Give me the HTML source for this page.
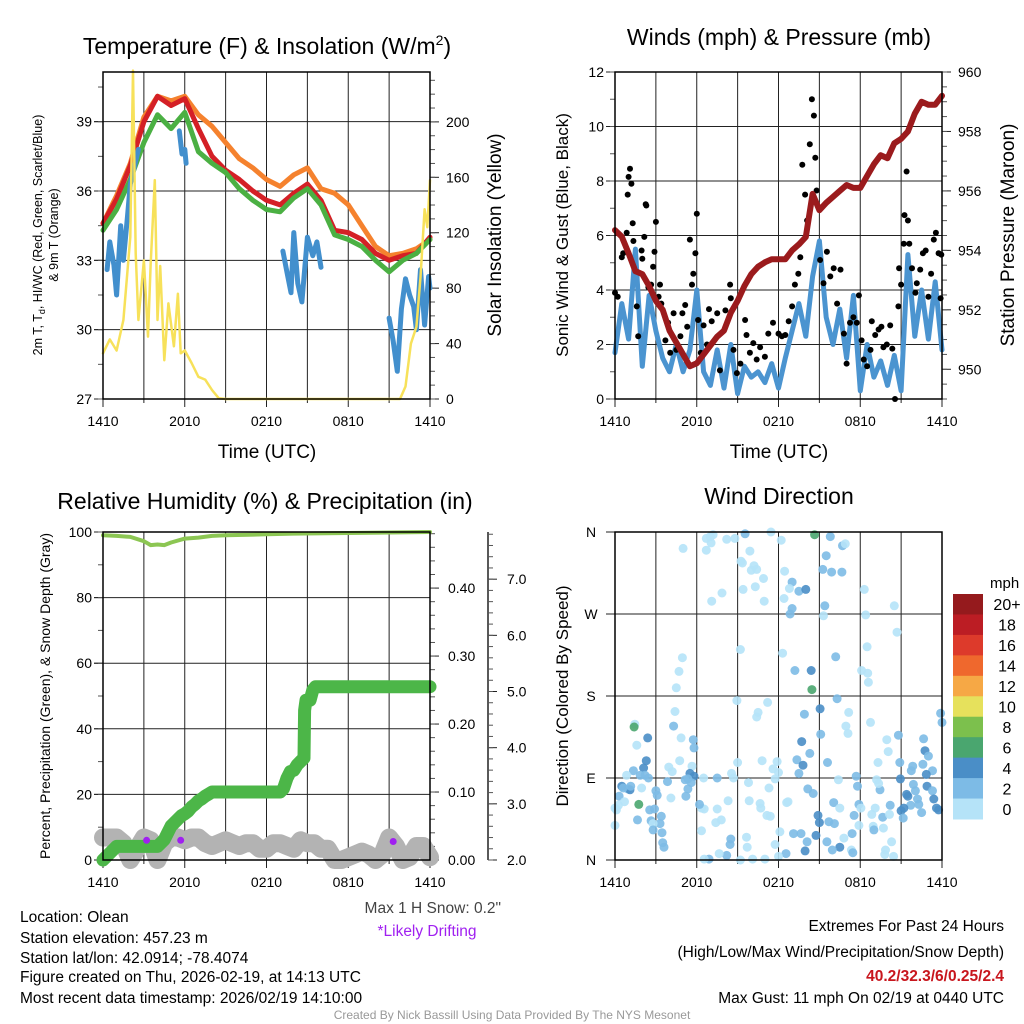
<!DOCTYPE html>
<html><head><meta charset="utf-8">
<style>
html,body{margin:0;padding:0;background:#fff;}
svg{display:block;font-family:"Liberation Sans",sans-serif;}
.ft{font-family:"Liberation Sans",sans-serif;font-size:15.5px;}
</style></head>
<body>
<svg id="chart" width="1024" height="1024" viewBox="0 0 1024 1024" xmlns="http://www.w3.org/2000/svg">
<rect x="0" y="0" width="1024" height="1024" fill="#fff"/>
<text x="267" y="54" font-size="23" text-anchor="middle">Temperature (F) &amp; Insolation (W/m<tspan dy="-9" font-size="14">2</tspan><tspan dy="9">)</tspan></text>
<text x="779" y="45" font-size="23" text-anchor="middle">Winds (mph) &amp; Pressure (mb)</text>
<text x="265" y="509" font-size="23" text-anchor="middle">Relative Humidity (%) &amp; Precipitation (in)</text>
<text x="779" y="504" font-size="23" text-anchor="middle">Wind Direction</text>
<text transform="translate(42,235) rotate(-90)" font-size="12.5" text-anchor="middle">2m T, T<tspan dy="3" font-size="9">d</tspan><tspan dy="-3">, HI/WC (Red, Green, Scarlet/Blue)</tspan></text>
<text transform="translate(58,235) rotate(-90)" font-size="12.5" text-anchor="middle">&amp; 9m T (Orange)</text>
<text transform="translate(501,235) rotate(-90)" font-size="19" text-anchor="middle">Solar Insolation (Yellow)</text>
<text transform="translate(568,235) rotate(-90)" font-size="17" text-anchor="middle">Sonic Wind &amp; Gust (Blue, Black)</text>
<text transform="translate(1014,235) rotate(-90)" font-size="19" text-anchor="middle">Station Pressure (Maroon)</text>
<text transform="translate(50,696) rotate(-90)" font-size="14" text-anchor="middle">Percent, Precipitation (Green), &amp; Snow Depth (Gray)</text>
<text transform="translate(568,696) rotate(-90)" font-size="17" text-anchor="middle">Direction (Colored By Speed)</text>
<text x="267" y="458" font-size="19" text-anchor="middle">Time (UTC)</text>
<text x="779" y="458" font-size="19" text-anchor="middle">Time (UTC)</text>
<g class="ft" font-size="15.5">
<text x="20" y="922">Location: Olean</text>
<text x="20" y="943">Station elevation: 457.23 m</text>
<text x="20" y="963">Station lat/lon: 42.0914; -78.4074</text>
<text x="20" y="982">Figure created on Thu, 2026-02-19, at 14:13 UTC</text>
<text x="20" y="1003">Most recent data timestamp: 2026/02/19 14:10:00</text>
<text x="501" y="913" text-anchor="end" fill="#444">Max 1 H Snow: 0.2"</text>
<text x="427" y="936" text-anchor="middle" fill="#a020f0">*Likely Drifting</text>
<text x="1004" y="931" text-anchor="end">Extremes For Past 24 Hours</text>
<text x="1004" y="957" text-anchor="end">(High/Low/Max Wind/Precipitation/Snow Depth)</text>
<text x="1004" y="981" text-anchor="end" fill="#c8161d" font-weight="bold">40.2/32.3/6/0.25/2.4</text>
<text x="1004" y="1003" text-anchor="end">Max Gust: 11 mph On 02/19 at 0440 UTC</text>
<text x="512" y="1019" text-anchor="middle" font-size="12" fill="#999">Created By Nick Bassill Using Data Provided By The NYS Mesonet</text>
</g>
</svg>
<script>
const hourTicks = [0,6,12,18,24];
const hourTickLabels = ["1410","2010","0210","0810","1410"];
const hourly = [0,1,2,3,4,5,6,7,8,9,10,11,12,13,14,15,16,17,18,19,20,21,22,23,24];
const tempRed = [34.6,35.65,37.1,39.0,40.1,39.7,40.0,38.7,37.5,36.9,36.5,36.0,35.6,35.4,35.9,36.3,35.6,34.3,34.2,33.9,33.3,33.0,33.2,33.3,34.0];
const tempGreen = [34.3,35.2,36.5,38.1,39.3,38.7,39.4,37.7,37.2,36.8,36.1,35.6,35.2,35.1,35.7,36.1,35.4,34.1,33.9,33.6,33.0,32.5,33.0,33.3,33.9];
const tempOrange = [34.6,35.8,37.2,39.2,40.1,39.9,40.1,39.3,38.8,38.1,37.4,37.0,36.5,36.2,36.7,37.0,36.1,35.9,35.4,34.5,33.6,33.2,33.3,33.5,33.9];
const chillHours = [0.3,0.5,0.8,1.0,1.3,1.5,1.8,2.0,2.4,2.6,null,5.6,5.8,6.0,6.1,null,13.2,13.5,13.8,14.0,14.3,14.6,15.0,15.4,15.7,16.0,null,21.0,21.3,21.6,21.9,22.2,22.5,22.8,23.0,23.3,23.6,23.9,24.0];
const chillVals = [32.6,33.8,32.8,31.5,34.5,33.0,34.9,36.3,37.3,37.8,null,38.6,37.6,37.8,37.2,null,33.4,32.5,31.6,34.2,32.0,31.2,34.0,33.2,33.8,32.7,null,30.5,29.5,28.2,30.9,32.2,31.5,31.0,30.0,32.6,30.2,32.3,31.8];
const solarHours = [0,0.5,1,1.5,2,2.2,2.4,2.6,3,3.3,3.5,3.8,4.0,4.2,4.5,4.8,5.2,5.5,5.7,6,6.5,7,7.5,8,8.5,9,21.8,22.2,22.6,23,23.3,23.6,23.8,24];
const solarVals = [33,43,35,57,117,237,105,57,100,45,98,158,57,96,28,69,38,76,33,35,26,16,14,6.5,0.5,0,0,9,40,52,88,137,124,158];
const halfHours = [0,0.5,1,1.5,2,2.5,3,3.5,4,4.5,5,5.5,6,6.5,7,7.5,8,8.5,9,9.5,10,10.5,11,11.5,12,12.5,13,13.5,14,14.5,15,15.5,16,16.5,17,17.5,18,18.5,19,19.5,20,20.5,21,21.5,22,22.5,23,23.5,24];
const windSpeed = [1.7,3.5,2.2,5.5,1.2,3.8,2.5,1.5,1.0,2.0,1.0,1.8,4.0,1.0,0.5,1.8,0.4,2.0,0.2,1.2,0.8,1.0,0.6,1.3,0.4,1.5,2.5,3.5,2.3,4.5,5.8,3.0,2.0,3.3,1.5,3.8,0.3,2.0,0.8,1.4,0.5,1.6,0.3,5.3,2.3,4.0,2.2,4.3,1.8];
const pressure = [954.68,954.46,953.9,953.3,953.2,952.8,952.3,952.0,951.3,950.9,950.5,950.1,950.2,950.5,950.8,951.1,951.3,951.9,952.3,952.8,953.2,953.45,953.6,953.7,953.7,953.7,954.0,954.2,954.45,955.9,955.35,955.6,955.8,956.0,956.2,956.1,956.1,956.5,956.9,957.2,957.1,957.6,957.75,958.0,958.6,959.0,958.9,958.9,959.2];
const gustHours = [0,0.2,0.5,0.6,0.86,0.93,1.0,1.1,1.2,1.3,1.35,1.6,1.7,1.95,2.0,2.15,2.25,2.3,2.45,2.65,2.8,2.9,3.0,3.2,3.3,3.4,3.7,3.9,4.05,4.3,4.5,4.8,4.95,5.15,5.3,5.5,5.65,5.75,5.9,6.0,6.1,6.3,6.5,6.75,6.9,7.1,7.5,7.7,8.1,8.45,8.5,8.7,8.95,9.2,9.55,9.65,9.9,10.15,10.4,10.65,11.0,11.25,11.6,12.0,12.25,12.5,12.75,13.0,13.2,13.45,13.6,13.75,13.95,14.1,14.3,14.45,14.6,14.7,14.8,15.05,15.3,15.55,15.8,16.05,16.3,16.55,16.8,17.0,17.25,17.5,17.75,17.9,18.1,18.25,18.5,18.75,18.85,19.1,19.35,19.55,19.7,19.95,20.2,20.35,20.55,20.8,20.85,21.0,21.2,21.25,21.4,21.5,21.6,21.8,22.05,22.15,22.4,22.6,22.8,23.0,23.2,23.4,23.55,23.75,23.95,23.9];
const gustVals = [3.9,3.75,5.2,5.35,6.1,7.5,8.15,8.45,7.9,6.45,5.8,3.4,2.3,5.45,5.15,5.95,7.15,7.1,4.1,4.2,4.85,5.4,6.5,3.75,4.2,3.5,2.15,2.8,1.7,3.15,1.8,2.3,3.15,3.45,2.65,5.85,4.2,4.6,5.35,6.8,2.9,1.7,2.7,2.0,3.3,2.85,3.15,1.05,3.25,4.2,3.7,1.8,0.95,1.3,2.9,2.35,1.7,2.05,1.45,1.9,1.55,2.4,2.8,2.4,2.3,2.35,2.85,3.4,4.2,4.6,5.2,8.6,7.5,6.55,9.35,11.0,10.4,8.85,7.65,5.1,4.25,5.4,4.5,4.8,3.5,4.75,2.4,1.3,2.8,3.0,2.8,3.8,2.15,1.45,1.2,1.8,2.85,2.35,2.55,2.65,1.9,2.0,2.7,1.85,0,3.4,4.8,4.2,5.7,6.75,8.35,6.55,5.7,4.8,3.9,4.25,4.75,5.35,5.45,3.75,4.6,5.85,6.1,5.35,5.3,3.7];
const rhHours = [0,1,2,3,3.5,4,4.5,5,6,7,8,9,12,14,18,24];
const rhVals = [99,98.8,98.5,97.2,96,96.2,96,96.8,98,98.3,98.8,99,99.3,99.5,99.7,100];
const precipHours = [0,0.25,0.5,0.75,1,1.5,2,2.5,3,3.5,4,4.25,4.5,4.75,5,5.25,5.5,5.75,6,6.25,6.5,6.75,7,7.25,7.5,7.75,8,8.25,8.5,8.75,9,9.25,9.5,10,10.5,11,11.5,12,12.5,13,13.25,13.5,13.75,14,14.25,14.5,14.75,14.8,14.9,15,15.2,15.4,15.6,16,17,18,19,20,21,22,23,24];
const precipVals = [0,0.005,0.01,0.015,0.02,0.02,0.02,0.02,0.02,0.02,0.02,0.025,0.03,0.04,0.05,0.055,0.06,0.065,0.068,0.072,0.078,0.082,0.087,0.09,0.094,0.097,0.1,0.1,0.1,0.1,0.1,0.1,0.1,0.1,0.1,0.1,0.1,0.1,0.1,0.1,0.105,0.12,0.13,0.132,0.14,0.145,0.15,0.22,0.235,0.235,0.235,0.25,0.255,0.255,0.255,0.255,0.255,0.255,0.255,0.255,0.255,0.255];
const snowHours = [0,0.5,1,1.5,2,2.5,3,3.5,4,4.5,5,5.5,6,6.5,7,7.5,8,8.5,9,9.5,10,10.5,11,11.5,12,12.5,13,13.5,14,14.5,15,15.5,16,16.5,17,17.5,18,18.5,19,19.5,20,20.5,21,21.5,22,22.5,23,23.5,24];
const snowVals = [2.4,2.4,2.4,2.3,2.0,2.2,2.4,2.35,2.0,2.3,2.4,2.4,2.35,2.4,2.4,2.3,2.25,2.3,2.35,2.3,2.25,2.3,2.3,2.2,2.2,2.3,2.3,2.25,2.2,2.35,2.3,2.3,2.2,2.2,2.0,2.0,2.05,2.1,2.15,2.1,2.0,2.1,2.4,2.25,2.0,2.05,2.25,2.25,2.05];
const driftHours = [3.2,5.7,21.3];
const driftVals = [2.35,2.35,2.33];
const dirHours = [5.0,6.7,7.0,7.2,7.05,6.7,8.2,8.8,9.55,11.45,12.2,14.65,15.8,16.7,16.9,9.9,9.25,9.35,10.2,10.0,10.4,10.9,9.4,10.3,10.95,7.85,7.1,12.45,13.0,13.5,14.0,12.8,12.4,13.0,12.85,15.5,15.25,15.9,16.65,15.4,15.3,18.3,18.4,20.5,20.7,9.2,12.3,16.2,18.5,18.1,18.55,18.6,13.2,14.4,14.45,4.95,4.7,4.5,4.4,4.3,4.85,8.95,11.2,10.5,10.4,15.05,13.9,16.3,17.15,16.95,17.1,18.75,15.1,13.7,14.3,13.35,13.8,13.5,15.6,14.15,14.55,20.8,19.95,20.05,19.3,20.9,22.65,22.75,23.0,22.6,21.85,21.75,23.3,22.85,20.95,23.9,24.0,21.9,22.9,23.3,22.05,21.4,21.5,22.2,22.3,23.4,23.6,23.75,21.7,21.2,21.0,22.5,21.15,19.45,19.35,19.2,17.7,17.8,16.4,17.9,18.05,17.55,19.1,18.85,19.65,20.2,20.15,18.95,19.0,19.7,20.3,19.85,19.8,20.45,17.4,16.8,16.5,17.35,17.45,15.95,15.55,17.9,16.05,16.5,15.7,16.1,14.9,15.0,14.75,14.1,13.95,13.65,13.1,12.55,12.1,11.75,12.0,11.0,10.1,9.2,8.2,7.65,6.9,6.55,7.4,7.8,8.45,8.5,9.65,9.7,10.65,10.7,11.15,11.4,9.85,8.3,12.6,12.7,11.3,6.35,6.35,6.55,7.5,6.2,10.8,11.9,11.6,12.0,11.75,9.0,8.55,8.7,9.8,7.5,6.5,5.75,5.8,5.65,5.5,5.8,5.35,5.15,5.6,5.35,5.2,4.1,3.95,4.2,4.75,3.85,3.4,3.3,3.45,3.5,3.6,3.0,3.1,2.55,2.9,2.65,2.8,2.8,2.4,2.3,2.1,2.2,2.45,1.85,1.35,0.85,1.95,1.6,1.45,1.4,1.75,1.65,0.95,1.1,0.5,0.6,1.15,0.3,0.7,0.25,0,0.1,0];
const dirDeg = [342,353,355,357,348,340,352,353,358,360,351,357,355,345,347,339,328,326,323,318,319,309,297,300,284,293,284,317,305,295,297,298,287,276,270,334,319,316,316,279,268,297,269,279,250,231,227,223,234,208,205,195,208,208,187,222,207,189,163,147,134,175,173,162,157,166,160,177,162,147,139,151,138,130,117,110,104,95,107,78,73,137,132,119,107,107,133,120,114,105,103,98,98,94,89,161,151,83,81,76,76,72,70,67,61,67,57,55,60,57,54,52,46,77,84,88,92,81,88,61,57,49,57,50,47,60,50,37,33,35,20,11,6,4,29,24,14,11,8,11,20,38,63,57,42,40,49,41,27,20,10,29,29,7,31,17,4,1,1,0,5,7,1,1,41,44,17,23,25,14,62,57,49,48,65,65,63,64,79,32,57,56,56,61,109,108,100,96,89,107,95,90,85,90,90,132,123,103,95,92,89,88,85,78,70,68,102,97,109,86,48,40,30,19,14,76,71,55,56,43,40,33,134,109,101,93,90,93,98,93,79,126,149,146,61,44,78,77,81,79,81,70,64,60,57,55,38];
const dirSpeed = [1,1,1,1,1,1,1,1,3,1,1,7,3,3,1,1,1,1,1,1,1,1,1,1,1,1,1,1,3,3,5,1,1,3,3,3,3,3,3,3,1,1,1,1,1,1,1,3,1,1,1,1,3,5,7,1,1,1,1,3,1,1,1,1,1,5,3,3,1,1,1,1,3,5,3,3,5,3,3,3,3,3,1,1,1,3,3,5,3,3,3,3,3,5,5,3,3,3,5,3,3,5,5,3,3,5,5,5,3,5,5,3,3,3,1,1,3,3,1,3,1,3,1,1,3,3,1,1,3,1,1,1,1,1,3,1,5,1,3,3,3,1,3,1,3,3,5,5,5,3,5,3,3,3,1,1,1,1,1,1,3,1,3,1,1,1,3,3,1,1,1,1,1,1,1,1,1,1,1,1,1,1,1,3,1,1,1,1,1,1,1,1,1,3,1,3,3,1,5,5,3,3,3,3,3,1,1,1,1,3,3,3,3,3,3,3,3,3,3,3,1,3,5,5,5,3,3,3,3,1,1,1,1,7,7,3,3,5,5,3,3,3,1];
const speedBinLabels = ["20+","18","16","14","12","10","8","6","4","2","0"];
const speedBinColors = ["#951a1d","#bc1d24","#dd3a2b","#ef682d","#f6a845","#e6e15c","#7cc04d","#4aa66f","#4a8ec7","#7dbbe6","#b5e3f8"];

const NS='http://www.w3.org/2000/svg';
const svg=document.getElementById('chart');
function mk(tag,attrs,parent){const e=document.createElementNS(NS,tag);for(const k in attrs)e.setAttribute(k,attrs[k]);(parent||svg).appendChild(e);return e;}
function lin(d0,d1,r0,r1){return v=>r0+(v-d0)*(r1-r0)/(d1-d0);}
function pathFrom(xs,ys,sx,sy){let d='',pen=false;for(let i=0;i<xs.length;i++){if(xs[i]===null||ys[i]===null||ys[i]===undefined){pen=false;continue;}d+=(pen?'L':'M')+sx(xs[i]).toFixed(1)+' '+sy(ys[i]).toFixed(1);pen=true;}return d;}

function panel(name,x0,x1,y0,y1){
  const g=mk('g',{});
  
  
  const sx=lin(0,24,x0,x1);
  for(let h=0;h<=24;h+=3){
    const gl=mk('line',{x1:sx(h),x2:sx(h),y1:y0,y2:y1+(h%6===0?8:4),stroke:'#222','stroke-width':1},g);
    
    
  }
  hourTicks.forEach((h,i)=>{
    const t=mk('text',{x:sx(h),y:y1+27,'font-size':14,'text-anchor':'middle'},g);
    t.textContent=hourTickLabels[i];
    
    
  });
  return {g,sx};
}
function yAxis(g,x0,x1,y0,y1,d0,d1,majors,labels,minorStep,side,labelX,grid){
  const sy=lin(d0,d1,y1,y0);
  majors.forEach((v,i)=>{
    const y=sy(v);
    if(grid){const l=mk('line',{x1:x0-9,x2:x1,y1:y,y2:y,stroke:'#222','stroke-width':1},g);
      
      }
    const tx=side==='left'?x0-9:x1;
    const tk=mk('line',{x1:tx,x2:tx+9,y1:y,y2:y,stroke:'#222','stroke-width':1},g);
    
    
    const t=mk('text',{x:labelX,y:y+5,'font-size':14,'text-anchor':side==='left'?'end':'start'},g);
    t.textContent=labels[i];
    
    
  });
  if(minorStep){
    for(let v=d0;v<=d1+1e-9;v+=minorStep){
      const y=sy(v); if(y<y0-0.5)continue;
      const tx=side==='left'?x0-5:x1;
      const m=mk('line',{x1:tx,x2:tx+5,y1:y,y2:y,stroke:'#555','stroke-width':1},g);
      
      
    }
  }
  return sy;
}
function frame(g,x0,x1,y0,y1){
  const r=mk('rect',{x:x0,y:y0,width:x1-x0,height:y1-y0,fill:'none',stroke:'#000','stroke-width':1.5},g);
  
  
}
function line(g,name,xs,ys,sx,sy,color,w){
  const p=mk('path',{d:pathFrom(xs,ys,sx,sy),fill:'none',stroke:color,'stroke-width':w,'stroke-linejoin':'round','stroke-linecap':'round'},g);
  
  
}
function dots(g,name,xs,ys,sx,sy,color,r,op){
  const gg=mk('g',{},g);
  
  
  for(let i=0;i<xs.length;i++){
    const c=mk('circle',{cx:sx(xs[i]).toFixed(1),cy:sy(ys[i]).toFixed(1),r:r,fill:color,'fill-opacity':op||1},gg);
    
    
  }
}

(function(){
  const x0=103,x1=430,y0=72,y1=399;
  const {g,sx}=panel('temperature',x0,x1,y0,y1);
  const syT=yAxis(g,x0,x1,y0,y1,27,41.15,[27,30,33,36,39],["27","30","33","36","39"],1.5,'left',92,true);
  const syS=yAxis(g,x0,x1,y0,y1,0,236,[0,40,80,120,160,200],["0","40","80","120","160","200"],10,'right',446,false);
  line(g,'orange-9m-temperature-line',hourly,tempOrange,sx,syT,'#f5822e',5);
  line(g,'red-2m-temperature-line',hourly,tempRed,sx,syT,'#d42026',5);
  line(g,'green-dewpoint-line',hourly,tempGreen,sx,syT,'#4bb043',5);
  line(g,'blue-wind-chill-line',chillHours,chillVals,sx,syT,'#428fcd',5);
  line(g,'yellow-solar-insolation-line',solarHours,solarVals,sx,syS,'#f7e15a',2.5);
  frame(g,x0,x1,y0,y1);
})();

(function(){
  const x0=615,x1=942,y0=72,y1=399;
  const {g,sx}=panel('winds',x0,x1,y0,y1);
  const syW=yAxis(g,x0,x1,y0,y1,0,12,[0,2,4,6,8,10,12],["0","2","4","6","8","10","12"],1,'left',604,true);
  const syP=yAxis(g,x0,x1,y0,y1,949,960,[950,952,954,956,958,960],["950","952","954","956","958","960"],0.5,'right',958,false);
  line(g,'blue-sustained-wind-line',halfHours,windSpeed,sx,syW,'#4b94d0',5);
  dots(g,'black-gust',gustHours,gustVals,sx,syW,'#000',3);
  line(g,'maroon-pressure-line',halfHours,pressure,sx,syP,'#9b1b1d',6);
  frame(g,x0,x1,y0,y1);
})();

(function(){
  const x0=103,x1=430,y0=532,y1=860;
  const {g,sx}=panel('humidity',x0,x1,y0,y1);
  const syH=yAxis(g,x0,x1,y0,y1,0,100,[0,20,40,60,80,100],["0","20","40","60","80","100"],10,'left',92,true);
  const syR=yAxis(g,x0,x1,y0,y1,0,0.4825,[0,0.1,0.2,0.3,0.4],["0.00","0.10","0.20","0.30","0.40"],0.02,'right',448,false);
  const ax=488;
  const al=mk('line',{x1:ax,x2:ax,y1:y0,y2:y1,stroke:'#222','stroke-width':1.5},g);
  
  
  const syD=yAxis(g,ax,ax,y0,y1,2.0,7.84,[2,3,4,5,6,7],["2.0","3.0","4.0","5.0","6.0","7.0"],0.2,'right',507,false);
  line(g,'gray-snow-depth-line',snowHours,snowVals,sx,syD,'#b3b3b3',18);
  line(g,'light-green-relative-humidity-line',rhHours,rhVals,sx,syH,'#8cc653',4);
  line(g,'green-precipitation-line',precipHours,precipVals,sx,syR,'#4cb648',13);
  dots(g,'purple-drifting-marker',driftHours,driftVals,sx,syD,'#a020f0',3.5);
  frame(g,x0,x1,y0,y1);
})();

(function(){
  const x0=615,x1=942,y0=532,y1=860;
  const {g,sx}=panel('wind-direction',x0,x1,y0,y1);
  const sy=yAxis(g,x0,x1,y0,y1,0,360,[0,90,180,270,360],["N","E","S","W","N"],0,'left',599,true);
  g.querySelectorAll('text').forEach(t=>{ if(['N','E','S','W'].includes(t.textContent)){t.setAttribute('text-anchor','middle');t.setAttribute('x',591);} });
  const gg=mk('g',{},g);
  
  
  const n=Math.min(dirHours.length,dirDeg.length);
  for(let i=0;i<n;i++){
    const spd=(dirSpeed[i]===undefined)?1:dirSpeed[i];
    const bin=Math.min(10,Math.floor(spd/2));
    const col=speedBinColors[10-bin];
    const c=mk('circle',{cx:sx(dirHours[i]).toFixed(1),cy:sy(dirDeg[i]).toFixed(1),r:4.5,fill:col,'fill-opacity':0.9},gg);
    
    
  }
  frame(g,x0,x1,y0,y1);
  const cb=mk('g',{});
  
  
  const cy0=594,ch=(819-594)/speedBinLabels.length;
  const mt=mk('text',{x:990,y:588,'font-size':15},cb);
  mt.textContent='mph';
  
  
  speedBinLabels.forEach((lab,i)=>{
    const r=mk('rect',{x:953,y:cy0+i*ch,width:30,height:ch+0.5,fill:speedBinColors[i]},cb);
    
    
    const t=mk('text',{x:1007,y:cy0+i*ch+ch/2+6,'font-size':16,'text-anchor':'middle'},cb);
    t.textContent=lab;
    
    
  });
})();
</script>
</body></html>
